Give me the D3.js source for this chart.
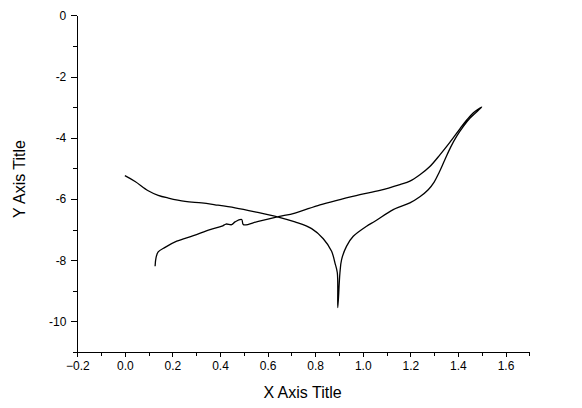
<!DOCTYPE html>
<html>
<head>
<meta charset="utf-8">
<script src="https://cdn.jsdelivr.net/npm/d3@7"></script>
<style>
  html, body { margin: 0; padding: 0; background: #fff; }
  svg { display: block; }
  text { font-family: "Liberation Sans", Arial, sans-serif; fill: #000; }
</style>
</head>
<body>
<svg id="chart" width="582" height="408"></svg>
<script>
// Potential (x) and log current (y), forward sweep then reverse sweep
const xValues = [
  0.000, 0.043, 0.098, 0.140, 0.183, 0.253, 0.323, 0.379, 0.463, 0.547,
  0.645, 0.715, 0.785, 0.834, 0.869, 0.883, 0.893, 0.895,
  0.904, 0.911, 0.932, 0.960, 1.016, 1.051, 1.128, 1.198, 1.240, 1.275,
  1.300, 1.320, 1.345, 1.370, 1.395, 1.423, 1.451, 1.500,
  1.465, 1.437, 1.409, 1.366, 1.325, 1.282, 1.240, 1.198, 1.156, 1.072,
  0.988, 0.904, 0.820, 0.715, 0.645, 0.561, 0.498, 0.491, 0.463, 0.449,
  0.425, 0.408, 0.358, 0.288, 0.218, 0.169, 0.140, 0.131, 0.127
];
const yValues = [
  -5.24, -5.43, -5.73, -5.88, -5.97, -6.08, -6.13, -6.19, -6.29, -6.42,
  -6.59, -6.75, -6.97, -7.30, -7.71, -8.09, -8.41, -9.55,
  -8.41, -7.98, -7.54, -7.22, -6.89, -6.73, -6.35, -6.13, -5.93, -5.70,
  -5.45, -5.15, -4.72, -4.30, -3.95, -3.63, -3.36, -3.00,
  -3.18, -3.42, -3.70, -4.15, -4.55, -4.94, -5.21, -5.42, -5.53, -5.72,
  -5.86, -6.02, -6.19, -6.46, -6.58, -6.73, -6.84, -6.67, -6.75, -6.84,
  -6.82, -6.89, -7.00, -7.20, -7.38, -7.58, -7.73, -7.92, -8.20
];
const xMajorTicks = [-0.2, 0.0, 0.2, 0.4, 0.6, 0.8, 1.0, 1.2, 1.4, 1.6];
const xMinorTicks = [-0.1, 0.1, 0.3, 0.5, 0.7, 0.9, 1.1, 1.3, 1.5, 1.7];
const yMajorTicks = [0, -2, -4, -6, -8, -10];
const yMinorTicks = [-1, -3, -5, -7, -9, -11];
const xTitle = "X Axis Title";
const yTitle = "Y Axis Title";

const svg = d3.select("#chart");
const x = d3.scaleLinear().domain([-0.2, 1.7]).range([77.3, 529.3]);
const y = d3.scaleLinear().domain([-11, 0]).range([352, 15.3]);

const fmtX = d3.format(".1f");
const fmtY = v => String(v).replace("\u2212", "-");

// X axis
const gx = svg.append("g").attr("transform", `translate(0,${y(-11)})`);
gx.call(d3.axisBottom(x).tickValues(xMinorTicks).tickSize(4).tickFormat(""))
  .call(g => g.select(".domain").remove());
gx.append("g").call(d3.axisBottom(x).tickValues(xMajorTicks).tickSize(5).tickSizeOuter(0).tickPadding(4).tickFormat(fmtX))
  .call(g => g.selectAll("text").attr("font-size", 12).attr("font-family", "Liberation Sans, Arial, sans-serif").attr("fill", "#000"));
gx.selectAll("line, path").attr("stroke", "#000").attr("stroke-width", 1).attr("shape-rendering", "crispEdges");

// Y axis
const gy = svg.append("g").attr("transform", `translate(${x(-0.2)},0)`);
gy.call(d3.axisLeft(y).tickValues(yMinorTicks).tickSize(4).tickFormat(""))
  .call(g => g.select(".domain").remove());
gy.append("g").call(d3.axisLeft(y).tickValues(yMajorTicks).tickSize(6).tickSizeOuter(0).tickPadding(5).tickFormat(fmtY))
  .call(g => g.selectAll("text").attr("font-size", 12).attr("font-family", "Liberation Sans, Arial, sans-serif").attr("fill", "#000"));
gy.selectAll("line, path").attr("stroke", "#000").attr("stroke-width", 1).attr("shape-rendering", "crispEdges");

// Titles
svg.append("text").attr("x", 302.5).attr("y", 397.5).attr("text-anchor", "middle")
  .attr("font-size", 16).text(xTitle);
svg.append("text").attr("transform", "translate(25,179) rotate(-90)").attr("text-anchor", "middle")
  .attr("font-size", 16).text(yTitle);

// Curve
const pts = xValues.map((v, i) => [v, yValues[i]]);
svg.append("path").datum(pts)
  .attr("fill", "none").attr("stroke", "#000").attr("stroke-width", 1.3)
  .attr("stroke-linejoin", "round")
  .attr("d", d3.line().x(d => x(d[0])).y(d => y(d[1])).curve(d3.curveCatmullRom.alpha(0.5)));
</script>
</body>
</html>
